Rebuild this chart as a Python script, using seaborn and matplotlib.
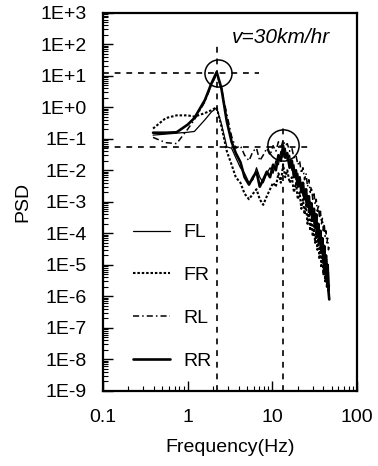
import numpy as np
import pandas as pd
import matplotlib
matplotlib.use("Agg")
import matplotlib.pyplot as plt
import matplotlib.ticker as mticker
import seaborn as sns

# Frequency grid (Hz) shared by the four wheel-position spectra
freq = [0.39, 0.55, 0.74, 1.0, 1.2, 1.6, 1.9, 2.2, 2.5, 2.9, 3.3, 3.7, 4.2, 4.7,
        5.3, 5.9, 6.5, 7.1, 7.8, 8.6, 9.4, 10.2, 11.0, 11.8, 12.6, 13.4, 14.2,
        15.0, 16.0, 17.0, 18.0, 19.0, 20.0, 21.0, 22.0, 23.0, 24.0, 25.0, 26.0,
        27.0, 28.0, 29.0, 30.0, 31.0, 32.0, 33.0, 34.0, 35.0, 36.0, 37.0, 38.0,
        39.0, 40.0, 41.0, 42.0, 43.0, 44.0, 45.0, 46.0, 47.0]

psd_fl = [0.13, 0.14, 0.15, 0.16, 0.17, 0.4, 0.7, 0.95, 0.3, 0.055, 0.05, 0.025,
          0.012, 0.008, 0.004, 0.005, 0.012, 0.006, 0.004, 0.008, 0.012, 0.008,
          0.02, 0.015, 0.04, 0.03, 0.05, 0.02, 0.03, 0.01, 0.015, 0.005, 0.008,
          0.003, 0.004, 0.0015, 0.0025, 0.0008, 0.0015, 0.0005, 0.001, 0.0003,
          0.0006, 0.0002, 0.0004, 0.0001, 0.0002, 6e-5, 1.2e-4, 3e-5, 8e-5, 2e-5,
          5e-5, 1e-5, 3e-5, 6e-6, 1.5e-5, 3e-6, 6e-6, 1.5e-6]

psd_fr = [0.21, 0.45, 0.55, 0.55, 0.5, 0.65, 0.8, 1.0, 0.25, 0.04, 0.015, 0.006,
          0.004, 0.0018, 0.0012, 0.0018, 0.0025, 0.0012, 0.0008, 0.0015, 0.0025,
          0.004, 0.003, 0.008, 0.004, 0.015, 0.006, 0.01, 0.004, 0.006, 0.002,
          0.004, 0.0012, 0.002, 0.0006, 0.0012, 0.0004, 0.0008, 0.0002, 0.0005,
          1.2e-4, 0.0003, 8e-5, 0.0002, 5e-5, 1.2e-4, 3e-5, 7e-5, 1.5e-5, 4e-5,
          8e-6, 2e-5, 5e-6, 1.2e-5, 3e-6, 8e-6, 2e-6, 5e-6, 1.5e-6, 2.5e-6]

psd_rl = [0.11, 0.075, 0.07, 0.2, 0.4, 1.5, 5.0, 11.0, 4.0, 0.6, 0.12, 0.05,
          0.06, 0.03, 0.02, 0.04, 0.05, 0.02, 0.03, 0.05, 0.03, 0.06, 0.04, 0.08,
          0.05, 0.09, 0.06, 0.07, 0.04, 0.05, 0.025, 0.03, 0.015, 0.02, 0.008,
          0.012, 0.005, 0.008, 0.003, 0.005, 0.002, 0.003, 0.0012, 0.002, 0.0008,
          0.0012, 0.0005, 0.0008, 0.0003, 0.0005, 0.0002, 0.0003, 1.2e-4, 0.0002,
          8e-5, 1.2e-4, 5e-5, 7e-5, 3e-5, 4e-5]

psd_rr = [0.155, 0.155, 0.16, 0.28, 0.45, 1.7, 5.5, 13.0, 4.0, 0.35, 0.08, 0.035,
          0.018, 0.006, 0.0035, 0.006, 0.009, 0.003, 0.005, 0.009, 0.006, 0.015,
          0.01, 0.03, 0.02, 0.06, 0.025, 0.035, 0.012, 0.02, 0.006, 0.01, 0.003,
          0.006, 0.002, 0.004, 0.0012, 0.0025, 0.0007, 0.0015, 0.0004, 0.0009,
          0.00025, 0.0006, 0.00015, 0.0004, 8e-5, 0.0002, 5e-5, 1.2e-4, 2.5e-5,
          7e-5, 1.2e-5, 4e-5, 6e-6, 2e-5, 3e-6, 1e-5, 1.5e-6, 8e-7]

series_names = ["FL", "FR", "RL", "RR"]

# Peak markers: (frequency, PSD) of the first and second resonance
peak_freq = [2.2, 13.4]
peak_psd = [12.4, 0.065]

sns.set_theme(style="ticks")
plt.rcParams["font.family"] = ["Liberation Sans", "DejaVu Sans"]
plt.rcParams.update({"text.color": "black", "axes.labelcolor": "black",
                     "xtick.color": "black", "ytick.color": "black"})

df = pd.DataFrame({
    "Frequency": freq * 4,
    "PSD": psd_fl + psd_fr + psd_rl + psd_rr,
    "Wheel": sum([[n] * len(freq) for n in series_names], []),
})

fig = plt.figure(figsize=(3.78, 4.66), dpi=100)
ax = fig.add_axes([0.2725, 0.161, 0.672, 0.812])

dash_map = {"FL": "", "FR": (1.2, 0.9), "RL": (4, 2, 1, 2), "RR": ""}
width_map = {"FL": 0.9, "FR": 1.5, "RL": 1.1, "RR": 1.9}

sns.lineplot(data=df, x="Frequency", y="PSD", hue="Wheel", style="Wheel",
             palette=["black"] * 4, dashes=dash_map, estimator=None,
             sort=False, legend=False, ax=ax)
for line, name in zip(ax.get_lines(), series_names):
    line.set_linewidth(width_map[name])

ax.set_xscale("log")
ax.set_yscale("log")
ax.set_xlim(0.1, 100)
ax.set_ylim(1e-9, 1e3)

# Reference lines through the two resonance peaks
ref_style = dict(color="black", lw=1.2, ls=(0, (3.5, 3.5)))
ax.plot([0.1, 7.0], [peak_psd[0], peak_psd[0]], **ref_style)
ax.plot([0.1, 27.0], [0.056, 0.056], **ref_style)
ax.plot([peak_freq[0], peak_freq[0]], [1e-9, 100], **ref_style)
ax.plot([peak_freq[1], peak_freq[1]], [1e-9, 0.22], **ref_style)

ax.plot([2.28], [peak_psd[0]], marker="o", ms=19.5, mfc="none", mec="black", mew=1.1)
ax.plot([13.4], [peak_psd[1]], marker="o", ms=22.5, mfc="none", mec="black", mew=1.1)

ax.text(0.894, 0.934, "v=30km/hr", transform=ax.transAxes, ha="right",
        va="center", fontsize=15, style="italic", color="black")

# Legend
handles = []
for name in series_names:
    kw = dict(color="black", lw=width_map[name])
    if dash_map[name]:
        kw["dashes"] = dash_map[name]
    handles.append(matplotlib.lines.Line2D([], [], **kw))
leg = ax.legend(handles, series_names, loc="upper left",
                bbox_to_anchor=(0.049, 0.488), frameon=False, fontsize=14,
                handlelength=1.9, handletextpad=0.67, labelspacing=1.29,
                labelcolor="black")

ax.yaxis.set_major_locator(mticker.LogLocator(base=10, numticks=20))
ax.yaxis.set_minor_locator(mticker.LogLocator(base=10, subs=np.arange(2, 10), numticks=20))
ax.yaxis.set_major_formatter(mticker.FuncFormatter(
    lambda v, p: "1E{:+d}".format(int(round(np.log10(v))))))
ax.yaxis.set_minor_formatter(mticker.NullFormatter())
ax.set_xticks([0.1, 1, 10, 100])
ax.xaxis.set_major_formatter(mticker.FixedFormatter(["0.1", "1", "10", "100"]))
ax.xaxis.set_minor_locator(mticker.LogLocator(base=10, subs=np.arange(2, 10), numticks=20))
ax.xaxis.set_minor_formatter(mticker.NullFormatter())

ax.tick_params(which="major", direction="in", length=7, width=1.0,
               labelsize=14, colors="black")
ax.tick_params(axis="y", which="major", pad=11.5)
ax.tick_params(axis="x", which="major", pad=13)
ax.tick_params(which="minor", direction="in", length=3.5, width=0.8)
ax.tick_params(top=False, right=False)

for sp in ax.spines.values():
    sp.set_visible(True)
    sp.set_linewidth(1.6)
    sp.set_color("black")

ax.set_xlabel("Frequency(Hz)", fontsize=14, labelpad=9, color="black")
ax.set_ylabel("PSD", fontsize=14, labelpad=7, color="black")

fig.savefig("out.png", dpi=100, facecolor="white")
